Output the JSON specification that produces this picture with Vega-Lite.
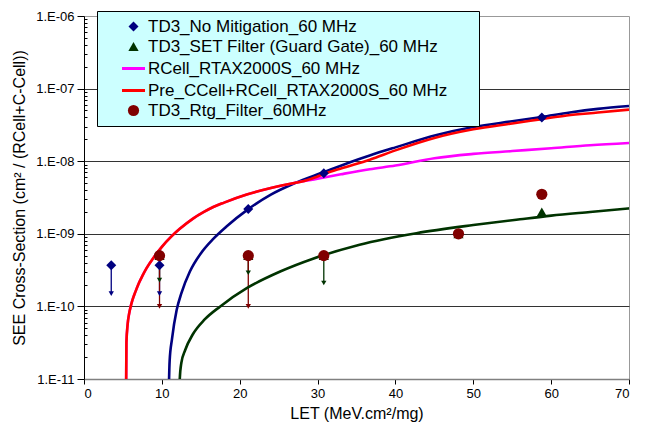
{
  "$schema": "https://vega.github.io/schema/vega-lite/v6.json",
  "width": 545,
  "height": 363,
  "autosize": {"type": "none"},
  "padding": {"left": 84, "top": 16, "right": 18, "bottom": 54},
  "background": "white",
  "config": {
    "font": "Liberation Sans",
    "view": {"stroke": "#999999", "strokeWidth": 1}
  },
  "datasets": {
    "curves": [
      {"s": "TD3_No Mitigation_60 MHz", "let": 10.75, "xs": 1e-12},
      {"s": "TD3_No Mitigation_60 MHz", "let": 11.0, "xs": 1.78e-11},
      {"s": "TD3_No Mitigation_60 MHz", "let": 11.3, "xs": 3.55e-11},
      {"s": "TD3_No Mitigation_60 MHz", "let": 11.9, "xs": 8.91e-11},
      {"s": "TD3_No Mitigation_60 MHz", "let": 12.5, "xs": 1.51e-10},
      {"s": "TD3_No Mitigation_60 MHz", "let": 13.6, "xs": 3.02e-10},
      {"s": "TD3_No Mitigation_60 MHz", "let": 15, "xs": 5.37e-10},
      {"s": "TD3_No Mitigation_60 MHz", "let": 16.6, "xs": 8.51e-10},
      {"s": "TD3_No Mitigation_60 MHz", "let": 18.3, "xs": 1.26e-9},
      {"s": "TD3_No Mitigation_60 MHz", "let": 21.1, "xs": 2.19e-9},
      {"s": "TD3_No Mitigation_60 MHz", "let": 24, "xs": 3.47e-9},
      {"s": "TD3_No Mitigation_60 MHz", "let": 26.9, "xs": 4.9e-9},
      {"s": "TD3_No Mitigation_60 MHz", "let": 30.8, "xs": 7.08e-9},
      {"s": "TD3_No Mitigation_60 MHz", "let": 34, "xs": 9.55e-9},
      {"s": "TD3_No Mitigation_60 MHz", "let": 36.7, "xs": 1.2e-8},
      {"s": "TD3_No Mitigation_60 MHz", "let": 40, "xs": 1.55e-8},
      {"s": "TD3_No Mitigation_60 MHz", "let": 45.3, "xs": 2.29e-8},
      {"s": "TD3_No Mitigation_60 MHz", "let": 50, "xs": 2.95e-8},
      {"s": "TD3_No Mitigation_60 MHz", "let": 55, "xs": 3.55e-8},
      {"s": "TD3_No Mitigation_60 MHz", "let": 58.8, "xs": 4.07e-8},
      {"s": "TD3_No Mitigation_60 MHz", "let": 62.4, "xs": 4.68e-8},
      {"s": "TD3_No Mitigation_60 MHz", "let": 66, "xs": 5.25e-8},
      {"s": "TD3_No Mitigation_60 MHz", "let": 70, "xs": 5.75e-8},

      {"s": "TD3_SET Filter (Guard Gate)_60 MHz", "let": 12.15, "xs": 1e-12},
      {"s": "TD3_SET Filter (Guard Gate)_60 MHz", "let": 12.3, "xs": 1e-11},
      {"s": "TD3_SET Filter (Guard Gate)_60 MHz", "let": 12.5, "xs": 1.66e-11},
      {"s": "TD3_SET Filter (Guard Gate)_60 MHz", "let": 13, "xs": 2.51e-11},
      {"s": "TD3_SET Filter (Guard Gate)_60 MHz", "let": 14, "xs": 4.17e-11},
      {"s": "TD3_SET Filter (Guard Gate)_60 MHz", "let": 15.5, "xs": 6.61e-11},
      {"s": "TD3_SET Filter (Guard Gate)_60 MHz", "let": 17.5, "xs": 1e-10},
      {"s": "TD3_SET Filter (Guard Gate)_60 MHz", "let": 20.9, "xs": 1.78e-10},
      {"s": "TD3_SET Filter (Guard Gate)_60 MHz", "let": 25.2, "xs": 3.02e-10},
      {"s": "TD3_SET Filter (Guard Gate)_60 MHz", "let": 29.5, "xs": 4.57e-10},
      {"s": "TD3_SET Filter (Guard Gate)_60 MHz", "let": 35.4, "xs": 7.08e-10},
      {"s": "TD3_SET Filter (Guard Gate)_60 MHz", "let": 42.7, "xs": 1.02e-9},
      {"s": "TD3_SET Filter (Guard Gate)_60 MHz", "let": 50, "xs": 1.32e-9},
      {"s": "TD3_SET Filter (Guard Gate)_60 MHz", "let": 56, "xs": 1.585e-9},
      {"s": "TD3_SET Filter (Guard Gate)_60 MHz", "let": 60, "xs": 1.78e-9},
      {"s": "TD3_SET Filter (Guard Gate)_60 MHz", "let": 65, "xs": 2.0e-9},
      {"s": "TD3_SET Filter (Guard Gate)_60 MHz", "let": 70, "xs": 2.24e-9},

      {"s": "RCell_RTAX2000S_60 MHz", "let": 5.35, "xs": 1e-12},
      {"s": "RCell_RTAX2000S_60 MHz", "let": 5.45, "xs": 3.2e-11},
      {"s": "RCell_RTAX2000S_60 MHz", "let": 5.6, "xs": 5.6e-11},
      {"s": "RCell_RTAX2000S_60 MHz", "let": 5.8, "xs": 8.0e-11},
      {"s": "RCell_RTAX2000S_60 MHz", "let": 6.0, "xs": 1.0e-10},
      {"s": "RCell_RTAX2000S_60 MHz", "let": 6.2, "xs": 1.2e-10},
      {"s": "RCell_RTAX2000S_60 MHz", "let": 6.6, "xs": 1.585e-10},
      {"s": "RCell_RTAX2000S_60 MHz", "let": 7.0, "xs": 2.04e-10},
      {"s": "RCell_RTAX2000S_60 MHz", "let": 7.5, "xs": 2.63e-10},
      {"s": "RCell_RTAX2000S_60 MHz", "let": 8.0, "xs": 3.31e-10},
      {"s": "RCell_RTAX2000S_60 MHz", "let": 9.0, "xs": 4.79e-10},
      {"s": "RCell_RTAX2000S_60 MHz", "let": 10, "xs": 6.61e-10},
      {"s": "RCell_RTAX2000S_60 MHz", "let": 11.2, "xs": 9.12e-10},
      {"s": "RCell_RTAX2000S_60 MHz", "let": 12.3, "xs": 1.17e-9},
      {"s": "RCell_RTAX2000S_60 MHz", "let": 14, "xs": 1.62e-9},
      {"s": "RCell_RTAX2000S_60 MHz", "let": 15.4, "xs": 2.0e-9},
      {"s": "RCell_RTAX2000S_60 MHz", "let": 16.6, "xs": 2.34e-9},
      {"s": "RCell_RTAX2000S_60 MHz", "let": 18, "xs": 2.69e-9},
      {"s": "RCell_RTAX2000S_60 MHz", "let": 20.9, "xs": 3.47e-9},
      {"s": "RCell_RTAX2000S_60 MHz", "let": 24, "xs": 4.27e-9},
      {"s": "RCell_RTAX2000S_60 MHz", "let": 27, "xs": 5.01e-9},
      {"s": "RCell_RTAX2000S_60 MHz", "let": 30, "xs": 5.75e-9},
      {"s": "RCell_RTAX2000S_60 MHz", "let": 33, "xs": 6.61e-9},
      {"s": "RCell_RTAX2000S_60 MHz", "let": 36.7, "xs": 7.76e-9},
      {"s": "RCell_RTAX2000S_60 MHz", "let": 40, "xs": 8.71e-9},
      {"s": "RCell_RTAX2000S_60 MHz", "let": 45, "xs": 1.1e-8},
      {"s": "RCell_RTAX2000S_60 MHz", "let": 50, "xs": 1.26e-8},
      {"s": "RCell_RTAX2000S_60 MHz", "let": 55, "xs": 1.38e-8},
      {"s": "RCell_RTAX2000S_60 MHz", "let": 60, "xs": 1.51e-8},
      {"s": "RCell_RTAX2000S_60 MHz", "let": 65, "xs": 1.66e-8},
      {"s": "RCell_RTAX2000S_60 MHz", "let": 70, "xs": 1.78e-8},

      {"s": "Pre_CCell+RCell_RTAX2000S_60 MHz", "let": 5.35, "xs": 1e-12},
      {"s": "Pre_CCell+RCell_RTAX2000S_60 MHz", "let": 5.45, "xs": 3.2e-11},
      {"s": "Pre_CCell+RCell_RTAX2000S_60 MHz", "let": 5.6, "xs": 5.6e-11},
      {"s": "Pre_CCell+RCell_RTAX2000S_60 MHz", "let": 5.8, "xs": 8.0e-11},
      {"s": "Pre_CCell+RCell_RTAX2000S_60 MHz", "let": 6.0, "xs": 1.0e-10},
      {"s": "Pre_CCell+RCell_RTAX2000S_60 MHz", "let": 6.2, "xs": 1.2e-10},
      {"s": "Pre_CCell+RCell_RTAX2000S_60 MHz", "let": 6.6, "xs": 1.585e-10},
      {"s": "Pre_CCell+RCell_RTAX2000S_60 MHz", "let": 7.0, "xs": 2.04e-10},
      {"s": "Pre_CCell+RCell_RTAX2000S_60 MHz", "let": 7.5, "xs": 2.63e-10},
      {"s": "Pre_CCell+RCell_RTAX2000S_60 MHz", "let": 8.0, "xs": 3.31e-10},
      {"s": "Pre_CCell+RCell_RTAX2000S_60 MHz", "let": 9.0, "xs": 4.79e-10},
      {"s": "Pre_CCell+RCell_RTAX2000S_60 MHz", "let": 10, "xs": 6.61e-10},
      {"s": "Pre_CCell+RCell_RTAX2000S_60 MHz", "let": 11.2, "xs": 9.12e-10},
      {"s": "Pre_CCell+RCell_RTAX2000S_60 MHz", "let": 12.3, "xs": 1.17e-9},
      {"s": "Pre_CCell+RCell_RTAX2000S_60 MHz", "let": 14, "xs": 1.62e-9},
      {"s": "Pre_CCell+RCell_RTAX2000S_60 MHz", "let": 15.4, "xs": 2.0e-9},
      {"s": "Pre_CCell+RCell_RTAX2000S_60 MHz", "let": 16.6, "xs": 2.34e-9},
      {"s": "Pre_CCell+RCell_RTAX2000S_60 MHz", "let": 18, "xs": 2.69e-9},
      {"s": "Pre_CCell+RCell_RTAX2000S_60 MHz", "let": 20.9, "xs": 3.47e-9},
      {"s": "Pre_CCell+RCell_RTAX2000S_60 MHz", "let": 24, "xs": 4.27e-9},
      {"s": "Pre_CCell+RCell_RTAX2000S_60 MHz", "let": 27, "xs": 5.01e-9},
      {"s": "Pre_CCell+RCell_RTAX2000S_60 MHz", "let": 28, "xs": 5.25e-9},
      {"s": "Pre_CCell+RCell_RTAX2000S_60 MHz", "let": 30, "xs": 6.17e-9},
      {"s": "Pre_CCell+RCell_RTAX2000S_60 MHz", "let": 31, "xs": 6.76e-9},
      {"s": "Pre_CCell+RCell_RTAX2000S_60 MHz", "let": 33, "xs": 7.94e-9},
      {"s": "Pre_CCell+RCell_RTAX2000S_60 MHz", "let": 36.7, "xs": 1.05e-8},
      {"s": "Pre_CCell+RCell_RTAX2000S_60 MHz", "let": 40, "xs": 1.41e-8},
      {"s": "Pre_CCell+RCell_RTAX2000S_60 MHz", "let": 45, "xs": 2.09e-8},
      {"s": "Pre_CCell+RCell_RTAX2000S_60 MHz", "let": 50, "xs": 2.75e-8},
      {"s": "Pre_CCell+RCell_RTAX2000S_60 MHz", "let": 55, "xs": 3.31e-8},
      {"s": "Pre_CCell+RCell_RTAX2000S_60 MHz", "let": 58.8, "xs": 3.8e-8},
      {"s": "Pre_CCell+RCell_RTAX2000S_60 MHz", "let": 62, "xs": 4.27e-8},
      {"s": "Pre_CCell+RCell_RTAX2000S_60 MHz", "let": 66, "xs": 4.68e-8},
      {"s": "Pre_CCell+RCell_RTAX2000S_60 MHz", "let": 70, "xs": 5.13e-8}
    ],
    "pts": [
      {"s": "TD3_No Mitigation_60 MHz", "let": 3.5, "xs": 3.7e-10},
      {"s": "TD3_No Mitigation_60 MHz", "let": 9.7, "xs": 3.7e-10},
      {"s": "TD3_No Mitigation_60 MHz", "let": 21.1, "xs": 2.2e-9},
      {"s": "TD3_No Mitigation_60 MHz", "let": 30.8, "xs": 6.8e-9},
      {"s": "TD3_No Mitigation_60 MHz", "let": 58.8, "xs": 4.0e-8},
      {"s": "TD3_SET Filter (Guard Gate)_60 MHz", "let": 9.7, "xs": 5e-10},
      {"s": "TD3_SET Filter (Guard Gate)_60 MHz", "let": 21.1, "xs": 5e-10},
      {"s": "TD3_SET Filter (Guard Gate)_60 MHz", "let": 30.8, "xs": 5e-10},
      {"s": "TD3_SET Filter (Guard Gate)_60 MHz", "let": 48.1, "xs": 1e-9},
      {"s": "TD3_SET Filter (Guard Gate)_60 MHz", "let": 58.8, "xs": 2e-9},
      {"s": "TD3_Rtg_Filter_60MHz", "let": 9.7, "xs": 5e-10},
      {"s": "TD3_Rtg_Filter_60MHz", "let": 21.1, "xs": 5e-10},
      {"s": "TD3_Rtg_Filter_60MHz", "let": 30.8, "xs": 5e-10},
      {"s": "TD3_Rtg_Filter_60MHz", "let": 48.1, "xs": 1e-9},
      {"s": "TD3_Rtg_Filter_60MHz", "let": 58.8, "xs": 3.5e-9}
    ],
    "arrows": [
      {"s": "TD3_No Mitigation_60 MHz", "let": 3.5, "hi": 3.7e-10, "lo": 1.5e-10},
      {"s": "TD3_No Mitigation_60 MHz", "let": 9.7, "hi": 3.7e-10, "lo": 1.5e-10},
      {"s": "TD3_SET Filter (Guard Gate)_60 MHz", "let": 9.7, "hi": 5e-10, "lo": 2.3e-10},
      {"s": "TD3_SET Filter (Guard Gate)_60 MHz", "let": 21.1, "hi": 5e-10, "lo": 2.9e-10},
      {"s": "TD3_SET Filter (Guard Gate)_60 MHz", "let": 30.8, "hi": 5e-10, "lo": 2.1e-10},
      {"s": "TD3_Rtg_Filter_60MHz", "let": 9.7, "hi": 5e-10, "lo": 1e-10},
      {"s": "TD3_Rtg_Filter_60MHz", "let": 21.1, "hi": 5e-10, "lo": 1e-10}
    ]
  },
  "layer": [
    {
      "data": {"name": "arrows"},
      "mark": {"type": "rule", "strokeWidth": 1.3},
      "encoding": {
        "x": {"field": "let", "type": "quantitative", "scale": {"domain": [0, 70], "nice": false}},
        "y": {"field": "hi", "type": "quantitative",
          "scale": {"type": "log", "domain": [1e-11, 1e-6], "nice": false}},
        "y2": {"field": "lo"},
        "color": {"field": "s", "type": "nominal",
          "scale": {"domain": ["TD3_No Mitigation_60 MHz", "TD3_SET Filter (Guard Gate)_60 MHz", "RCell_RTAX2000S_60 MHz", "Pre_CCell+RCell_RTAX2000S_60 MHz", "TD3_Rtg_Filter_60MHz"],
            "range": ["#000080", "#003300", "#FF00FF", "#FF0000", "#800000"]}}
      }
    },
    {
      "data": {"name": "arrows"},
      "mark": {"type": "point", "shape": "triangle-down", "filled": true, "opacity": 1, "size": 28},
      "encoding": {
        "x": {"field": "let", "type": "quantitative"},
        "y": {"field": "lo", "type": "quantitative"},
        "color": {"field": "s", "type": "nominal"}
      }
    },
    {
      "data": {"name": "curves"},
      "mark": {"type": "line", "strokeWidth": 2.6, "interpolate": "monotone", "clip": true},
      "encoding": {
        "x": {"field": "let", "type": "quantitative",
          "axis": {"values": [0, 10, 20, 30, 40, 50, 60, 70], "grid": false, "domainColor": "#808080", "domainWidth": 1.5, "tickColor": "#000000", "tickSize": 5,
            "labelFontSize": 13, "labelColor": "#000000", "labelPadding": 3,
            "title": "LET (MeV.cm²/mg)", "titleFontSize": 16, "titleFontWeight": "normal", "titleColor": "#000000", "titlePadding": 5}},
        "y": {"field": "xs", "type": "quantitative",
          "axis": {"values": [1e-11,2e-11,3e-11,4e-11,5e-11,6e-11,7e-11,8e-11,9e-11,1e-10,2e-10,3e-10,4e-10,5e-10,6e-10,7e-10,8e-10,9e-10,1e-9,2e-9,3e-9,4e-9,5e-9,6e-9,7e-9,8e-9,9e-9,1e-8,2e-8,3e-8,4e-8,5e-8,6e-8,7e-8,8e-8,9e-8,1e-7,2e-7,3e-7,4e-7,5e-7,6e-7,7e-7,8e-7,9e-7,1e-6],
            "labelExpr": "abs(log(datum.value)/LN10 - round(log(datum.value)/LN10)) < 0.01 ? '1.E-' + format(-round(log(datum.value)/LN10), '02') : ''",
            "grid": true,
            "gridColor": {"condition": {"test": "abs(log(datum.value)/LN10 - round(log(datum.value)/LN10)) < 0.01 && datum.value > 2e-11 && datum.value < 5e-7", "value": "#333333"}, "value": "transparent"},
            "gridWidth": 1,
            "domainColor": "#000000", "tickColor": "#000000",
            "tickSize": {"condition": {"test": "abs(log(datum.value)/LN10 - round(log(datum.value)/LN10)) < 0.01", "value": 7}, "value": -3},
            "labelFontSize": 13, "labelColor": "#000000", "labelPadding": 3,
            "title": "SEE Cross-Section (cm² / (RCell+C-Cell))", "titleFontSize": 16, "titleFontWeight": "normal", "titleColor": "#000000", "titlePadding": 8}},
        "color": {"field": "s", "type": "nominal"}
      }
    },
    {
      "data": {"name": "pts"},
      "mark": {"type": "point", "filled": true, "opacity": 1},
      "encoding": {
        "x": {"field": "let", "type": "quantitative"},
        "y": {"field": "xs", "type": "quantitative"},
        "color": {"field": "s", "type": "nominal",
          "legend": {
            "orient": "none", "legendX": 13, "legendY": -5,
            "title": " ", "titleOrient": "right", "titlePadding": 25, "titleFontSize": 10,
            "fillColor": "#CCFFFF", "strokeColor": "#000000", "padding": 7,
            "labelFontSize": 17, "labelFont": "Liberation Sans", "labelColor": "#000000", "labelLimit": 500,
            "symbolOffset": 18, "labelOffset": 3, "rowPadding": 2,
            "symbolStrokeWidth": 0
          }},
        "shape": {"field": "s", "type": "nominal",
          "scale": {"domain": ["TD3_No Mitigation_60 MHz", "TD3_SET Filter (Guard Gate)_60 MHz", "RCell_RTAX2000S_60 MHz", "Pre_CCell+RCell_RTAX2000S_60 MHz", "TD3_Rtg_Filter_60MHz"],
            "range": ["diamond", "triangle-up", "M-1,-0.13L1,-0.13L1,0.13L-1,0.13Z", "M-1,-0.13L1,-0.13L1,0.13L-1,0.13Z", "circle"]}},
        "size": {"field": "s", "type": "nominal",
          "scale": {"type": "ordinal", "domain": ["TD3_No Mitigation_60 MHz", "TD3_SET Filter (Guard Gate)_60 MHz", "RCell_RTAX2000S_60 MHz", "Pre_CCell+RCell_RTAX2000S_60 MHz", "TD3_Rtg_Filter_60MHz"],
            "range": [100, 105, 529, 529, 125]}}
      }
    }
  ]
}
